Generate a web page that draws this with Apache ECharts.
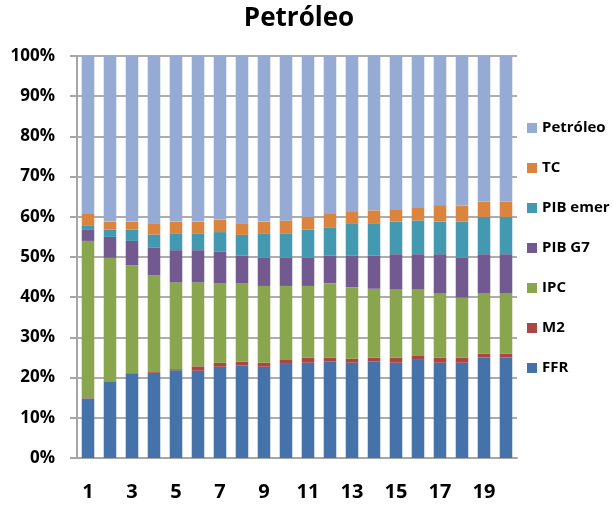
<!DOCTYPE html>
<html>
<head>
<meta charset="utf-8">
<script src="https://cdn.jsdelivr.net/npm/echarts@6/dist/echarts.min.js"></script>
<style>
  html, body { margin: 0; padding: 0; background: #ffffff; }
  #chart { width: 613px; height: 508px; }
</style>
</head>
<body>
<div id="chart"></div>
<script>
// Horizons 1..20
const categories = ['1','2','3','4','5','6','7','8','9','10','11','12','13','14','15','16','17','18','19','20'];

// Share of each shock in the variance of oil price (%)
const ffr      = [14.8, 19.0, 20.9, 21.2, 21.8, 21.7, 22.7, 23.1, 22.7, 23.4, 23.7, 24.0, 23.7, 24.0, 23.7, 24.4, 23.7, 23.7, 25.0, 25.0];
const m2       = [0.1, 0.1, 0.2, 0.2, 0.3, 1.1, 1.0, 0.9, 1.0, 1.0, 1.3, 1.0, 1.0, 1.0, 1.3, 1.0, 1.3, 1.3, 1.0, 1.0];
const ipc      = [39.1, 30.7, 26.8, 24.0, 21.6, 20.9, 19.7, 19.4, 19.1, 18.4, 17.8, 18.5, 17.8, 17.1, 16.9, 16.5, 15.9, 14.9, 14.9, 14.9];
const pibG7    = [2.9, 5.2, 6.1, 7.0, 8.0, 8.0, 8.0, 7.0, 7.0, 7.0, 7.0, 6.9, 7.9, 8.3, 8.8, 8.8, 9.8, 9.9, 9.8, 9.8];
const pibEmer  = [1.0, 1.8, 2.8, 3.2, 4.2, 4.2, 4.8, 5.1, 6.1, 6.1, 7.0, 7.0, 8.0, 8.0, 8.1, 8.4, 8.1, 9.0, 9.3, 9.3];
const tc       = [3.0, 2.0, 2.0, 2.8, 2.9, 2.9, 3.1, 2.9, 2.9, 3.2, 3.2, 3.3, 2.8, 3.2, 3.1, 3.1, 4.1, 4.0, 3.8, 3.8];
const petroleo = [39.1, 41.2, 41.2, 41.6, 41.2, 41.2, 40.7, 41.6, 41.2, 40.9, 40.0, 39.3, 38.8, 38.4, 38.1, 37.8, 37.1, 37.2, 36.2, 36.2];

const seriesNames = ['FFR', 'M2', 'IPC', 'PIB G7', 'PIB emer', 'TC', 'Petróleo'];
const seriesData = [ffr, m2, ipc, pibG7, pibEmer, tc, petroleo];
const colors = ['#4572A8', '#AA4744', '#89A54E', '#72598F', '#4299B0', '#DB843D', '#95ABD3'];

const font = '"Open Sans", "Noto Sans", sans-serif';

const chart = echarts.init(document.getElementById('chart'), null, { renderer: 'canvas' });

chart.setOption({
  animation: false,
  backgroundColor: '#ffffff',
  title: {
    text: 'Petróleo',
    left: 294,
    textAlign: 'center',
    top: 1,
    textStyle: { fontFamily: font, fontWeight: 'bold', fontSize: 26, color: '#000000' }
  },
  legend: {
    orient: 'vertical',
    left: 527,
    top: 120,
    padding: 0,
    itemWidth: 10,
    itemHeight: 10,
    itemGap: 24,
    icon: 'rect',
    data: ['Petróleo', 'TC', 'PIB emer', 'PIB G7', 'IPC', 'M2', 'FFR'],
    textStyle: { fontFamily: font, fontWeight: 'bold', fontSize: 15, color: '#000000', lineHeight: 16 }
  },
  grid: { left: 77, right: 96, top: 56, bottom: 50, containLabel: false },
  xAxis: {
    type: 'category',
    data: categories,
    boundaryGap: true,
    axisLine: { show: true, lineStyle: { color: '#A6A6A6', width: 2 } },
    axisTick: { show: false },
    axisLabel: {
      interval: 1,
      margin: 24,
      fontFamily: font,
      fontWeight: 'bold',
      fontSize: 20,
      color: '#000000'
    }
  },
  yAxis: {
    type: 'value',
    min: 0,
    max: 100,
    interval: 10,
    axisLine: { show: true, lineStyle: { color: '#A6A6A6', width: 2 } },
    axisTick: { show: true, length: 7, lineStyle: { color: '#A6A6A6', width: 2 } },
    splitLine: { show: true, lineStyle: { color: '#ADADAD', width: 2 } },
    axisLabel: {
      formatter: '{value}%',
      margin: 22,
      fontFamily: font,
      fontWeight: 'bold',
      fontSize: 17,
      color: '#000000'
    }
  },
  series: seriesNames.map((name, i) => ({
    name: name,
    type: 'bar',
    stack: 'total',
    barCategoryGap: '43%',
    itemStyle: { color: colors[i] },
    data: seriesData[i]
  }))
});
</script>
</body>
</html>
